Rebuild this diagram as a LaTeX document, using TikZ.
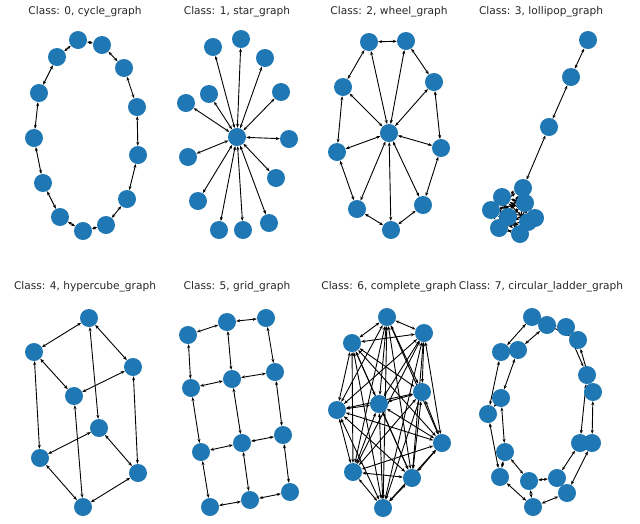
\documentclass[tikz,border=0pt]{standalone}
\usepackage{fontspec}
\setmainfont{DejaVu Sans}
\usetikzlibrary{arrows.meta,backgrounds}
\definecolor{mblue}{HTML}{1F77B4}
\tikzset{
  v/.style={circle,fill=mblue,draw=none,minimum size=18pt,inner sep=0pt},
  e/.style={{Stealth[length=4pt,width=3pt]}-{Stealth[length=4pt,width=3pt]},line width=0.9pt,black},
  ttl/.style={font=\fontsize{10.6}{12}\selectfont,text=black!85}
}
\begin{document}
\begin{tikzpicture}[x=1pt,y=-1pt]
\useasboundingbox (0,0) rectangle (640,523);
% titles
\node[ttl] (t0) at (85,12) {Class: 0, cycle\_graph};
\node[ttl] (t1) at (237,12) {Class: 1, star\_graph};
\node[ttl] (t2) at (389,12) {Class: 2, wheel\_graph};
\node[ttl] (t3) at (541,12) {Class: 3, lollipop\_graph};
\node[ttl] (t4) at (85,287) {Class: 4, hypercube\_graph};
\node[ttl] (t5) at (237,287) {Class: 5, grid\_graph};
\node[ttl] (t6) at (389,287) {Class: 6, complete\_graph};
\node[ttl] (t7) at (541,287) {Class: 7, circular\_ladder\_graph};
% cycle
\foreach \i/\x/\y in {0/78/40,1/102/45,2/124/68,3/137/107,4/138/155,5/127/199,6/106/225,7/83/231,8/60/217,9/43/183,10/34/138,11/39/93,12/57/57}
  \node[v] (c\i) at (\x,\y) {};
\begin{scope}[on background layer]
\foreach \i [evaluate=\i as \j using {int(mod(\i+1,13))}] in {0,...,12} \draw[e] (c\i) -- (c\j);
\end{scope}
% star
\node[v] (s0) at (237,137) {};
\foreach \i/\x/\y in {1/213/47,2/241/39,3/265/58,4/209/94,5/186/103,6/281/92,7/289/139,8/188/157,9/276/178,10/198/201,11/269/223,12/219/230,13/243/230}
  \node[v] (s\i) at (\x,\y) {};
\begin{scope}[on background layer]
\foreach \i in {1,...,13} \draw[e] (s0) -- (s\i);
\end{scope}
% wheel
\node[v] (w0) at (389,133) {};
\foreach \i/\x/\y in {1/369/42,2/406/41,3/434/82,4/441/148,5/423/205,6/391/230,7/357/209,8/337/152,9/343/87}
  \node[v] (w\i) at (\x,\y) {};
\begin{scope}[on background layer]
\foreach \i [evaluate=\i as \j using {int(mod(\i,9)+1)}] in {1,...,9} {\draw[e] (w\i) -- (w\j); \draw[e] (w0) -- (w\i);}
\end{scope}
% lollipop
\foreach \i/\x/\y in {1/588/40,2/571/77,3/549/127,4/523/188,5/502/197,6/491/210,7/525/203,8/535/218,9/499/228,10/520/234,11/508/217,12/528/222}
  \node[v] (l\i) at (\x,\y) {};
\begin{scope}[on background layer]
\draw[e] (l1) -- (l2); \draw[e] (l2) -- (l3); \draw[e] (l3) -- (l4);
\foreach \i in {4,...,12} \foreach \j in {4,...,12} {\ifnum\i<\j \draw[e] (l\i) -- (l\j);\fi}
\end{scope}
% hypercube
\foreach \i/\x/\y in {1/89/318,2/34/352,3/133/367,4/74/396,5/99/428,6/40/458,7/138/473,8/83/507}
  \node[v] (h\i) at (\x,\y) {};
\begin{scope}[on background layer]
\foreach \a/\b in {1/2,1/3,1/5,2/4,2/6,3/4,3/7,4/8,5/6,5/7,6/8,7/8} \draw[e] (h\a) -- (h\b);
\end{scope}
% grid
\foreach \i/\x/\y in {11/188/335,12/227/322,13/266/318,21/191/388,22/232/379,23/275/372,31/201/452,32/242/443,33/283/435,41/210/507,42/250/500,43/290/492}
  \node[v] (g\i) at (\x,\y) {};
\begin{scope}[on background layer]
\foreach \r in {1,...,4} {\draw[e] (g\r1) -- (g\r2); \draw[e] (g\r2) -- (g\r3);}
\foreach \r/\s in {1/2,2/3,3/4} \foreach \c in {1,2,3} \draw[e] (g\r\c) -- (g\s\c);
\end{scope}
% complete
\foreach \i/\x/\y in {1/387/317,2/424/333,3/352/343,4/422/392,5/337/410,6/379/404,7/442/443,8/353/472,9/412/478,10/383/508}
  \node[v] (k\i) at (\x,\y) {};
\begin{scope}[on background layer]
\foreach \i in {1,...,10} \foreach \j in {1,...,10} {\ifnum\i<\j \draw[e] (k\i) -- (k\j);\fi}
\end{scope}
% circular ladder
\foreach \i/\x/\y in {1/547/325,2/566/327,3/587/375,4/580/443,5/557/478,6/529/481,7/505/452,8/501/398,9/518/350}
  \node[v] (a\i) at (\x,\y) {};
\foreach \i/\x/\y in {1/532/317,2/578/340,3/593/392,4/592/443,5/567/493,6/533/507,7/500/477,8/488/414,9/501/352}
  \node[v] (b\i) at (\x,\y) {};
\begin{scope}[on background layer]
\foreach \i [evaluate=\i as \j using {int(mod(\i,9)+1)}] in {1,...,9} {\draw[e] (a\i) -- (a\j); \draw[e] (b\i) -- (b\j); \draw[e] (a\i) -- (b\i);}
\end{scope}
\end{tikzpicture}
\end{document}
